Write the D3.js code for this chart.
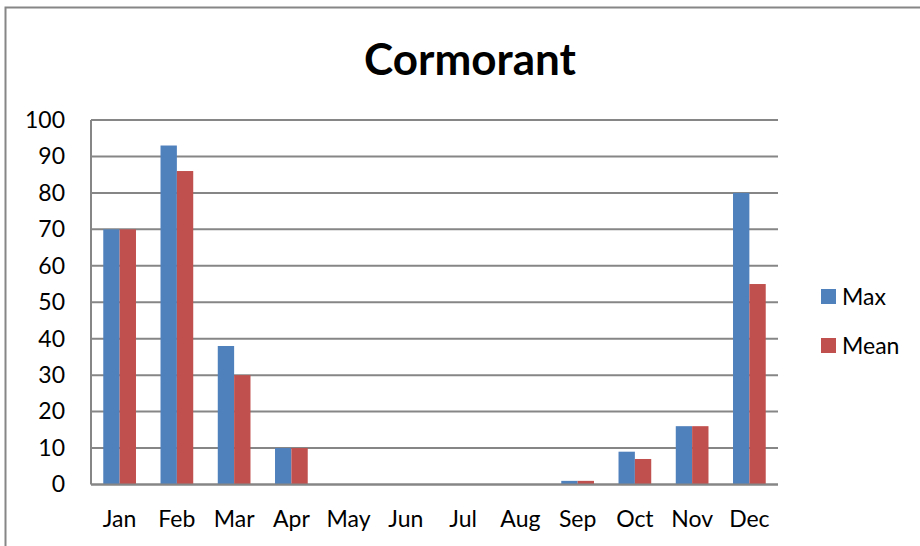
<!DOCTYPE html>
<html><head><meta charset="utf-8">
<script src="https://cdn.jsdelivr.net/npm/d3@7"></script>
<style>body{margin:0;background:#fff}svg{display:block;font-family:Lato,"Open Sans",sans-serif}</style>
</head><body><svg id="c" width="920" height="546"></svg>
<script>
const months = ["Jan","Feb","Mar","Apr","May","Jun","Jul","Aug","Sep","Oct","Nov","Dec"];
const seriesNames = ["Max","Mean"];
const maxValues = [70,93,38,10,0,0,0,0,1,9,16,80];
const meanValues = [70,86,30,10,0,0,0,0,1,7,16,55];
const yTicks = [0,10,20,30,40,50,60,70,80,90,100];
const colors = ["#4F81BD","#C0504D"];

const svg = d3.select("#c");
svg.append("rect").attr("x",5.5).attr("y",7.5).attr("width",930).attr("height",560)
  .attr("fill","#fff").attr("stroke","#868686").attr("stroke-width",2);

const L=91, R=778, T=120, B=484.5;
const x = d3.scaleBand().domain(months).range([L,R]).paddingInner(0.4286).paddingOuter(0.2143);
const xs = d3.scaleBand().domain(seriesNames).range([0,x.bandwidth()]);
const y = d3.scaleLinear().domain([0,100]).range([B,T]);

svg.append("g").selectAll("line").data(yTicks).join("line")
  .attr("x1",L).attr("x2",R).attr("y1",d=>y(d)).attr("y2",d=>y(d))
  .attr("stroke","#868686").attr("stroke-width",2);
svg.append("line").attr("x1",L).attr("x2",L).attr("y1",T).attr("y2",B)
  .attr("stroke","#868686").attr("stroke-width",2);

const data = months.map((m,i)=>({m, vals:[maxValues[i],meanValues[i]]}));
const g = svg.append("g").selectAll("g").data(data).join("g")
  .attr("transform",d=>`translate(${x(d.m)},0)`);
g.selectAll("rect").data(d=>d.vals.map((v,j)=>({v,s:seriesNames[j],j}))).join("rect")
  .attr("x",d=>xs(d.s)).attr("width",xs.bandwidth())
  .attr("y",d=>y(d.v)).attr("height",d=>B-y(d.v))
  .attr("fill",d=>colors[d.j]);

svg.append("line").attr("x1",L).attr("x2",R).attr("y1",B).attr("y2",B)
  .attr("stroke","#868686").attr("stroke-width",2);

const ya = svg.append("g").attr("transform",`translate(${L},0)`)
  .call(d3.axisLeft(y).tickValues(yTicks).tickSize(0).tickPadding(26));
ya.select(".domain").remove();
ya.selectAll("text").attr("font-size",23).attr("font-family","Lato, sans-serif").attr("fill","#000");

const xa = svg.append("g").attr("transform",`translate(0,${B})`)
  .call(d3.axisBottom(x).tickSize(0));
xa.select(".domain").remove();
xa.selectAll("text").attr("font-size",23).attr("font-family","Lato, sans-serif").attr("fill","#000")
  .attr("y",42.5).attr("dy",0);

svg.append("text").attr("x",470).attr("y",75).attr("text-anchor","middle")
  .attr("font-size",44).attr("font-weight","bold").attr("fill","#000").text("Cormorant");

const lg = svg.append("g").selectAll("g").data(seriesNames).join("g")
  .attr("transform",(d,i)=>`translate(821,${289+i*49})`);
lg.append("rect").attr("width",15).attr("height",15).attr("fill",(d,i)=>colors[i]);
lg.append("text").attr("x",21).attr("y",16).attr("font-size",23).attr("fill","#000").text(d=>d);
</script></body></html>
